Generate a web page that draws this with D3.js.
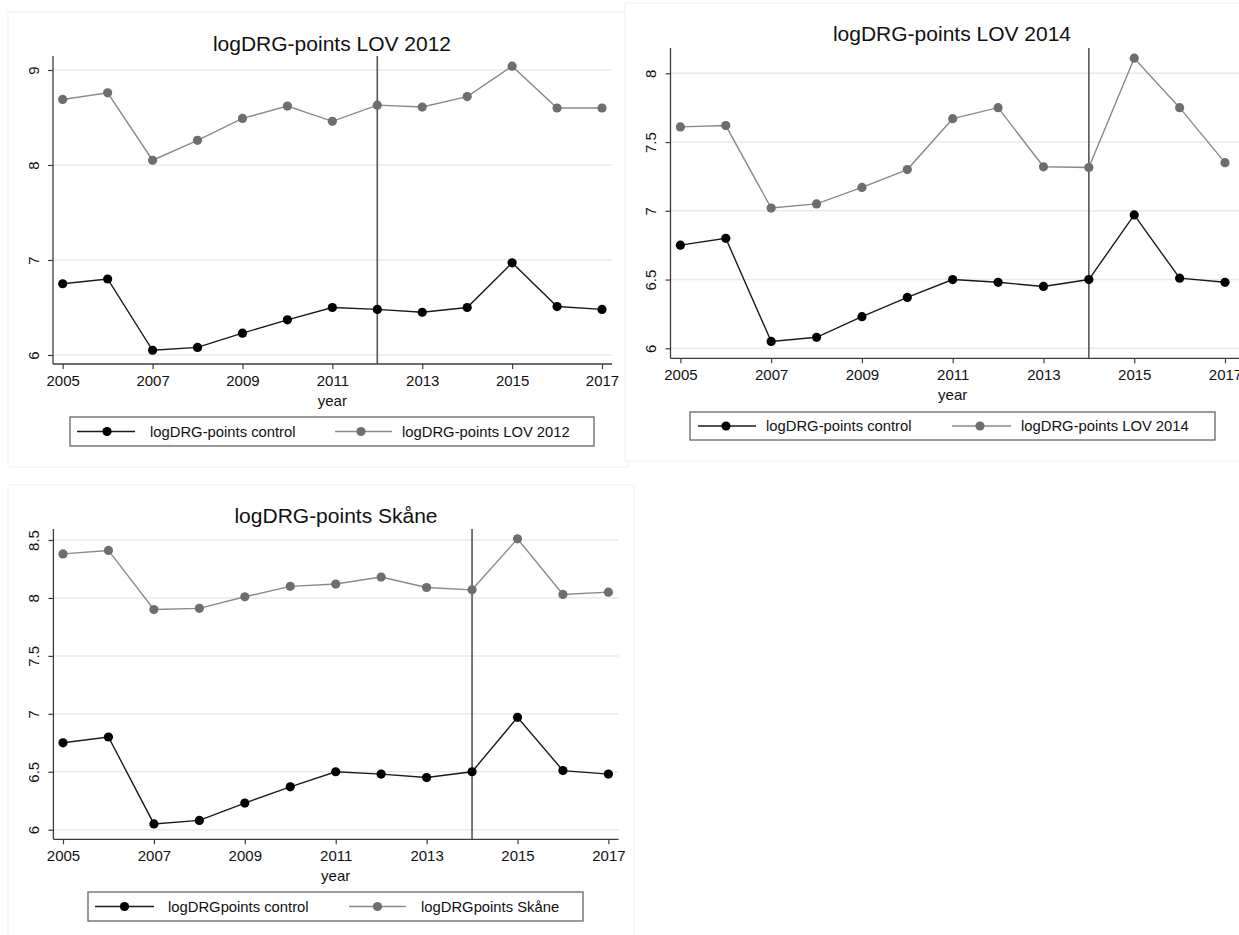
<!DOCTYPE html>
<html>
<head>
<meta charset="utf-8">
<script src="https://cdn.jsdelivr.net/npm/d3@7"></script>
<style>
  html, body { margin: 0; padding: 0; background: #fff; }
  svg { display: block; font-family: "Liberation Sans", Arial, Helvetica, sans-serif; }
</style>
</head>
<body>
<svg id="chart" width="1239" height="935"></svg>
<script>
// ---- data ----
const years = [2005, 2006, 2007, 2008, 2009, 2010, 2011, 2012, 2013, 2014, 2015, 2016, 2017];
const control = [6.75, 6.80, 6.05, 6.08, 6.23, 6.37, 6.50, 6.48, 6.45, 6.50, 6.97, 6.51, 6.48];
const lov2012 = [8.69, 8.76, 8.05, 8.26, 8.49, 8.62, 8.46, 8.63, 8.61, 8.72, 9.04, 8.60, 8.60];
const lov2014 = [7.61, 7.62, 7.02, 7.05, 7.17, 7.30, 7.67, 7.75, 7.32, 7.315, 8.11, 7.75, 7.35];
const skane   = [8.38, 8.41, 7.90, 7.91, 8.01, 8.10, 8.12, 8.18, 8.09, 8.07, 8.51, 8.03, 8.05];
const xTicks = [2005, 2007, 2009, 2011, 2013, 2015, 2017];
const yTicks1 = [6, 7, 8, 9];
const yTicks2 = [6, 6.5, 7, 7.5, 8];
const yTicks3 = [6, 6.5, 7, 7.5, 8, 8.5];
const titles = ["logDRG-points LOV 2012", "logDRG-points LOV 2014", "logDRG-points Skåne"];
const legendControl = ["logDRG-points control", "logDRG-points control", "logDRGpoints control"];
const legendTreat = ["logDRG-points LOV 2012", "logDRG-points LOV 2014", "logDRGpoints Skåne"];
const eventYears = [2012, 2014, 2014];
const treatSeries = [lov2012, lov2014, skane];
const yTickSets = [yTicks1, yTicks2, yTicks3];

const svg = d3.select("#chart");

const COL_CTRL = "#000000";
const COL_TREAT = "#6e6e6e";
const COL_TREAT_LINE = "#8a8a8a";
const COL_GRID = "#e5ecec";
const COL_AXIS = "#3c3c3c";

const layouts = [
  { box: [8, 12, 620, 455], plot: { l: 53, r: 612, t: 56, b: 364 }, x0: 62.7, x1: 602, y0: 6, y0px: 355, y1: 9, y1px: 70,
    titleX: 332, titleY: 43, legend: { x: 70, y: 417, w: 524, h: 29, m1: 107, l1: [77, 135], t1: 150, m2: 361, l2: [335, 392], t2: 402 } },
  { box: [625, 3, 630, 458], plot: { l: 670.5, r: 1240, t: 48, b: 358.3 }, x0: 680.4, x1: 1225, y0: 6, y0px: 348.3, y1: 8, y1px: 73.3,
    titleX: 952, titleY: 33, legend: { x: 690, y: 412, w: 525, h: 28, m1: 726, l1: [698, 756], t1: 766, m2: 980, l2: [952, 1011], t2: 1021 } },
  { box: [8, 485, 626, 460], plot: { l: 53.4, r: 618.5, t: 529, b: 839.3 }, x0: 63, x1: 608.4, y0: 6, y0px: 829.7, y1: 8.5, y1px: 540,
    titleX: 336, titleY: 515, legend: { x: 88, y: 892, w: 495, h: 29, m1: 124.5, l1: [95, 154], t1: 168, m2: 377.5, l2: [349, 406], t2: 421 } }
];

layouts.forEach((L, i) => {
  const g = svg.append("g");
  g.append("rect").attr("x", L.box[0]).attr("y", L.box[1]).attr("width", L.box[2]).attr("height", L.box[3])
    .attr("fill", "#fff").attr("stroke", "#eef2f2").attr("stroke-width", 1);

  const x = d3.scaleLinear().domain([2005, 2017]).range([L.x0, L.x1]);
  const y = d3.scaleLinear().domain([L.y0, L.y1]).range([L.y0px, L.y1px]);
  const P = L.plot;

  g.selectAll(".grid").data(yTickSets[i]).enter().append("line")
    .attr("x1", P.l).attr("x2", P.r).attr("y1", d => y(d)).attr("y2", d => y(d))
    .attr("stroke", COL_GRID).attr("stroke-width", 1.5);

  const yAxis = d3.axisLeft(y).tickValues(yTickSets[i]).tickSize(5).tickPadding(0).tickFormat(d3.format("~g"));
  const ya = g.append("g").attr("transform", `translate(${P.l},0)`).call(yAxis);
  ya.select(".domain").remove();
  ya.selectAll(".tick line").attr("stroke", COL_AXIS).attr("stroke-width", 1.2);
  ya.selectAll(".tick text")
    .attr("x", null).attr("dy", null)
    .attr("transform", "translate(-20,0) rotate(-90)")
    .attr("text-anchor", "middle").attr("dominant-baseline", "central")
    .attr("font-size", "15px").attr("fill", "#111").attr("font-family", "Liberation Sans, Arial, sans-serif");
  g.append("line").attr("x1", P.l).attr("x2", P.l).attr("y1", P.t).attr("y2", P.b)
    .attr("stroke", COL_AXIS).attr("stroke-width", 1.3);

  const xAxis = d3.axisBottom(x).tickValues(xTicks).tickSize(5).tickPadding(6).tickFormat(d3.format("d"));
  const xa = g.append("g").attr("transform", `translate(0,${P.b})`).call(xAxis);
  xa.select(".domain").remove();
  xa.selectAll(".tick line").attr("stroke", COL_AXIS).attr("stroke-width", 1.2);
  xa.selectAll(".tick text").attr("font-size", "15px").attr("fill", "#111")
    .attr("font-family", "Liberation Sans, Arial, sans-serif");
  g.append("line").attr("x1", P.l).attr("x2", P.r).attr("y1", P.b).attr("y2", P.b)
    .attr("stroke", COL_AXIS).attr("stroke-width", 1.3);

  g.append("text").attr("x", (x(2005) + x(2017)) / 2).attr("y", P.b + 36)
    .attr("text-anchor", "middle").attr("dominant-baseline", "central")
    .attr("font-size", "15px").attr("fill", "#111").text("year");

  g.append("text").attr("x", L.titleX).attr("y", L.titleY)
    .attr("text-anchor", "middle").attr("dominant-baseline", "central")
    .attr("font-size", "21px").attr("fill", "#111").text(titles[i]);

  g.append("line").attr("x1", x(eventYears[i])).attr("x2", x(eventYears[i])).attr("y1", P.t).attr("y2", P.b)
    .attr("stroke", "#555").attr("stroke-width", 1.6);

  const line = d3.line().x((d, k) => x(years[k])).y(d => y(d));

  const ts = treatSeries[i];
  g.append("path").datum(ts).attr("d", line).attr("fill", "none")
    .attr("stroke", COL_TREAT_LINE).attr("stroke-width", 1.4);
  g.selectAll(".pt").data(ts).enter().append("circle")
    .attr("cx", (d, k) => x(years[k])).attr("cy", d => y(d)).attr("r", 4.6).attr("fill", COL_TREAT);

  g.append("path").datum(control).attr("d", line).attr("fill", "none")
    .attr("stroke", "#1a1a1a").attr("stroke-width", 1.4);
  g.selectAll(".pc").data(control).enter().append("circle")
    .attr("cx", (d, k) => x(years[k])).attr("cy", d => y(d)).attr("r", 4.6).attr("fill", COL_CTRL);

  const Lg = L.legend;
  g.append("rect").attr("x", Lg.x).attr("y", Lg.y).attr("width", Lg.w).attr("height", Lg.h)
    .attr("fill", "#fff").attr("stroke", "#666").attr("stroke-width", 1.3);
  const cy = Lg.y + Lg.h / 2;
  g.append("line").attr("x1", Lg.l1[0]).attr("x2", Lg.l1[1]).attr("y1", cy).attr("y2", cy)
    .attr("stroke", "#1a1a1a").attr("stroke-width", 1.4);
  g.append("circle").attr("cx", Lg.m1).attr("cy", cy).attr("r", 4.6).attr("fill", COL_CTRL);
  g.append("text").attr("x", Lg.t1).attr("y", cy).attr("dominant-baseline", "central")
    .attr("font-size", "14.8px").attr("fill", "#111").text(legendControl[i]);
  g.append("line").attr("x1", Lg.l2[0]).attr("x2", Lg.l2[1]).attr("y1", cy).attr("y2", cy)
    .attr("stroke", COL_TREAT_LINE).attr("stroke-width", 1.4);
  g.append("circle").attr("cx", Lg.m2).attr("cy", cy).attr("r", 4.6).attr("fill", COL_TREAT);
  g.append("text").attr("x", Lg.t2).attr("y", cy).attr("dominant-baseline", "central")
    .attr("font-size", "14.8px").attr("fill", "#111").text(legendTreat[i]);
});
</script>
</body>
</html>
